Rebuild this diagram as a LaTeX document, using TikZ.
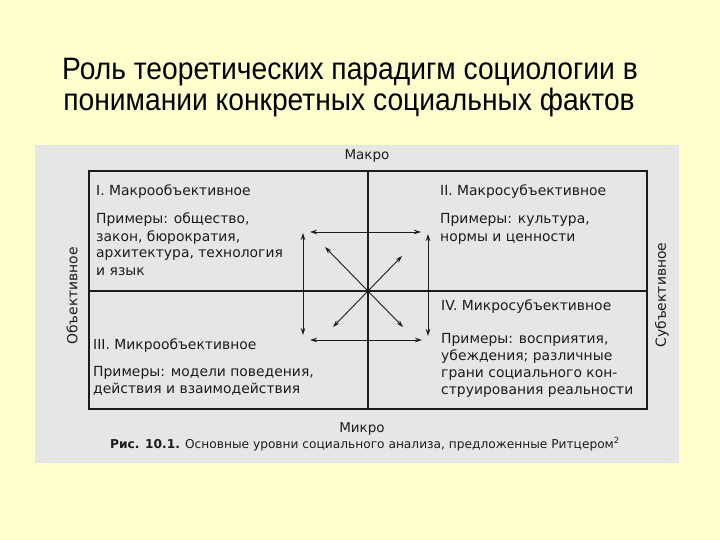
\documentclass[tikz,border=0pt]{standalone}
\usepackage{fontspec}
\setmainfont{DejaVu Sans}
\newfontfamily\titlefont{Liberation Sans}[FakeStretch=0.91]
\usetikzlibrary{arrows.meta}
\definecolor{bgyellow}{RGB}{255,255,206}
\definecolor{scan}{RGB}{230,230,228}
\definecolor{ink}{RGB}{28,28,28}
\begin{document}
\begin{tikzpicture}[x=1pt,y=-1pt,
  qline/.style={anchor=base west, inner sep=0pt, text=ink, font=\fontsize{13.9}{16}\selectfont},
  axislabel/.style={anchor=base, inner sep=0pt, text=ink, font=\fontsize{13.5}{16}\selectfont},
  sidelabel/.style={inner sep=0pt, text=ink, rotate=90, font=\fontsize{13.9}{16}\selectfont},
  titleline/.style={anchor=base, inner sep=0pt, text=black, font=\titlefont\fontsize{31}{36}\selectfont},
  frame/.style={draw=ink, line width=1.3pt},
  dblarrow/.style={draw=ink, line width=0.9pt, {Stealth[length=7pt,width=4.5pt]}-{Stealth[length=7pt,width=4.5pt]}}
]
\useasboundingbox (0,0) rectangle (720,540);
\fill[bgyellow] (0,0) rectangle (720,540);
\fill[scan] (35,145) rectangle (679,463);

% title
\node[titleline] (t1) at (350,80) {Роль теоретических парадигм социологии в};
\node[titleline] (t2) at (349,111) {понимании конкретных социальных фактов};

% frame and axes
\coordinate (nw) at (89,171);
\coordinate (se) at (647,409);
\coordinate (top) at (368,171);
\coordinate (bot) at (368,409);
\coordinate (lft) at (89,291);
\coordinate (rgt) at (647,291);
\draw[frame] (nw) rectangle (se);
\draw[frame] (top) -- (bot);
\draw[frame] (lft) -- (rgt);

% arrows
\coordinate (ah1) at (310,232); \coordinate (ah2) at (421,232);
\coordinate (ah3) at (310,340); \coordinate (ah4) at (422,340);
\coordinate (av1) at (303,233); \coordinate (av2) at (303,335);
\coordinate (av3) at (428,234); \coordinate (av4) at (428,336);
\coordinate (d1) at (325,247); \coordinate (d2) at (403,327);
\coordinate (d3) at (402,256); \coordinate (d4) at (333,327);
\draw[dblarrow] (ah1) -- (ah2);
\draw[dblarrow] (ah3) -- (ah4);
\draw[dblarrow] (av1) -- (av2);
\draw[dblarrow] (av3) -- (av4);
\draw[dblarrow] (d1) -- (d2);
\draw[dblarrow] (d3) -- (d4);

% axis labels
\node[axislabel] (makro) at (367,160) {Макро};
\node[axislabel] (mikro) at (362,432) {Микро};
\node[sidelabel] (obj) at (72,296) {Объективное};
\node[sidelabel] (subj) at (662,295) {Субъективное};

% quadrant I
\node[qline] (q1h) at (96,196) {I. Макрообъективное};
\node[qline] (q1a) at (96,224) {Примеры: общество,};
\node[qline] (q1b) at (96,241) {закон, бюрократия,};
\node[qline] (q1c) at (96,258) {архитектура, технология};
\node[qline] (q1d) at (96,275) {и язык};

% quadrant II
\node[qline] (q2h) at (440,196) {II. Макросубъективное};
\node[qline] (q2a) at (440,224) {Примеры: культура,};
\node[qline] (q2b) at (440,241) {нормы и ценности};

% quadrant III
\node[qline] (q3h) at (93,349) {III. Микрообъективное};
\node[qline] (q3a) at (93,376) {Примеры: модели поведения,};
\node[qline] (q3b) at (93,393) {действия и взаимодействия};

% quadrant IV
\node[qline] (q4h) at (441,310) {IV. Микросубъективное};
\node[qline] (q4a) at (441,343) {Примеры: восприятия,};
\node[qline] (q4b) at (441,360) {убеждения; различные};
\node[qline] (q4c) at (441,377) {грани социального кон-};
\node[qline] (q4d) at (441,394) {струирования реальности};

% caption
\node[anchor=base west, inner sep=0pt, text=ink, font=\fontsize{12.2}{14}\selectfont] (cap) at (110,448)
  {\textbf{Рис. 10.1.} Основные уровни социального анализа, предложенные Ритцером\textsuperscript{2}};
\end{tikzpicture}
\end{document}
